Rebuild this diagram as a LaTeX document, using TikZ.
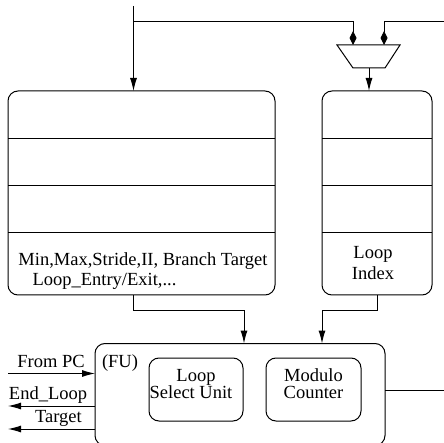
\documentclass[tikz,border=0pt]{standalone}
\usepackage{fontspec}
\setmainfont{Liberation Serif}
\usetikzlibrary{arrows.meta}
\tikzset{
  flowarrow/.style={arrows={-Latex[length=13pt,width=7pt]}},
  muxarrow/.style={arrows={-Kite[length=14pt,width=7pt,inset=7pt]}}
}
\begin{document}
\begin{tikzpicture}[x=1pt,y=1pt,line width=1pt,
  area/.style={inner sep=0pt,outer sep=0pt},
  outline/.style={rounded corners=10pt},
  lbl/.style={font=\fontsize{18.5}{20}\selectfont,inner sep=0pt,anchor=base}]
\useasboundingbox (0,0) rectangle (444,-443);

% register tables
\node[area,minimum width=267pt,minimum height=204pt] (tbl) at (141.5,-193) {};
\node[area,minimum width=110pt,minimum height=204pt] (idx) at (377,-193) {};
\foreach \b in {tbl,idx}
  \draw[outline] (\b.north) -- (\b.north east) -- (\b.south east) -- (\b.south west) -- (\b.north west) -- (\b.north);
\foreach \y in {-139,-186,-233}{
  \draw (tbl.west |- 0,\y) -- (tbl.east |- 0,\y);
  \draw (idx.west |- 0,\y) -- (idx.east |- 0,\y);
}
\node[lbl] (params) at (143,-266) {Min,Max,Stride,II, Branch Target};
\node[lbl] (entry) at (104.5,-286) {Loop\_Entry/Exit,...};
\node[lbl] (idxa) at (373,-259) {Loop};
\node[lbl] (idxb) at (373,-280) {Index};

% multiplexer
\coordinate (mA) at (337,-45);
\coordinate (mB) at (400,-45);
\coordinate (mC) at (385,-68);
\coordinate (mD) at (353,-68);
\draw (mA) -- (mB) -- (mC) -- (mD) -- (mA) -- (mB);
\coordinate (min1) at (353,-45);
\coordinate (min2) at (384,-45);
\coordinate (mout) at (369,-68);

% inputs from above
\coordinate (src) at (133.5,-6);
\coordinate (srcR) at (444,-21.5);
\draw[flowarrow] (src) -- (src |- tbl.north);
\draw[muxarrow] (src |- srcR) -| (min1);
\draw[muxarrow] (srcR) -| (min2);
\draw[flowarrow] (mout) -- (mout |- idx.north);

% functional unit
\node[area,minimum width=290pt,minimum height=102pt] (fu) at (240,-394.5) {};
\node[area,minimum width=94pt,minimum height=63pt] (lsu) at (196,-389.5) {};
\node[area,minimum width=95pt,minimum height=63pt] (mc) at (313.5,-389.5) {};
\foreach \b in {fu,lsu,mc}
  \draw[outline] (\b.north) -- (\b.north east) -- (\b.south east) -- (\b.south west) -- (\b.north west) -- (\b.north);
\node[lbl] (fulbl) at (120,-367) {(FU)};
\node[lbl] (lsua) at (196,-381) {Loop};
\node[lbl] (lsub) at (191,-398) {Select Unit};
\node[lbl] (mca) at (313.5,-381) {Modulo};
\node[lbl] (mcb) at (313.5,-398) {Counter};

% tables to functional unit
\coordinate (j1) at (244,-311);
\coordinate (j2) at (322,-311);
\draw[flowarrow] (tbl.south -| src) |- (j1) -- (j1 |- fu.north);
\draw[flowarrow] (idx.south) |- (j2) -- (j2 |- fu.north);

% output on the right
\coordinate (out) at (444,-390);
\draw (fu.east |- out) -- (out);

% signals on the left
\coordinate (pc) at (8,-373.5);
\coordinate (el) at (8,-406);
\coordinate (tg) at (8,-429);
\draw[flowarrow] (pc) -- (pc -| fu.west);
\draw[flowarrow] (fu.west |- el) -- (el);
\draw[flowarrow] (fu.west |- tg) -- (tg);
\node[lbl] (pclbl) at (51,-367) {From PC};
\node[lbl] (ellbl) at (48,-399) {End\_Loop};
\node[lbl] (tglbl) at (58.5,-422) {Target};
\end{tikzpicture}
\end{document}
